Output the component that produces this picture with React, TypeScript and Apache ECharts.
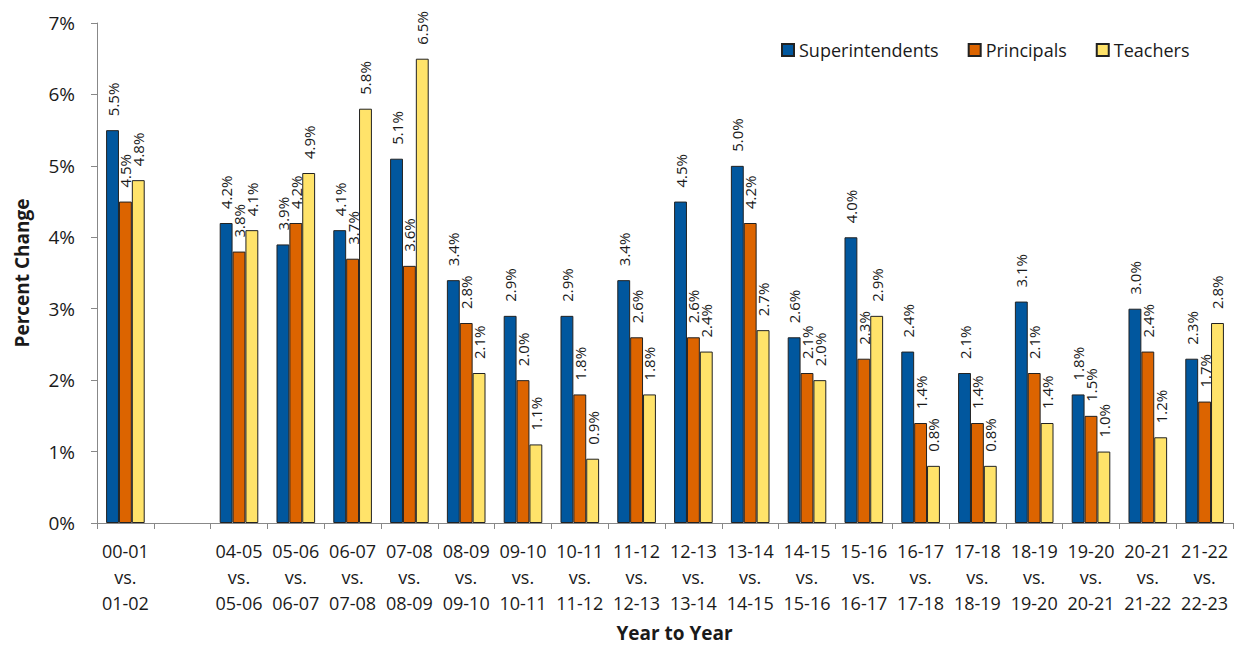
import React, { useEffect, useRef } from "react";
import * as echarts from "echarts";

const categories = [
  "00-01\nvs.\n01-02", "",
  "04-05\nvs.\n05-06", "05-06\nvs.\n06-07", "06-07\nvs.\n07-08", "07-08\nvs.\n08-09",
  "08-09\nvs.\n09-10", "09-10\nvs.\n10-11", "10-11\nvs.\n11-12", "11-12\nvs.\n12-13",
  "12-13\nvs.\n13-14", "13-14\nvs.\n14-15", "14-15\nvs.\n15-16", "15-16\nvs.\n16-17",
  "16-17\nvs.\n17-18", "17-18\nvs.\n18-19", "18-19\nvs.\n19-20", "19-20\nvs.\n20-21",
  "20-21\nvs.\n21-22", "21-22\nvs.\n22-23",
];
const superintendents = [5.5, "-", 4.2, 3.9, 4.1, 5.1, 3.4, 2.9, 2.9, 3.4, 4.5, 5.0, 2.6, 4.0, 2.4, 2.1, 3.1, 1.8, 3.0, 2.3];
const principals = [4.5, "-", 3.8, 4.2, 3.7, 3.6, 2.8, 2.0, 1.8, 2.6, 2.6, 4.2, 2.1, 2.3, 1.4, 1.4, 2.1, 1.5, 2.4, 1.7];
const teachers = [4.8, "-", 4.1, 4.9, 5.8, 6.5, 2.1, 1.1, 0.9, 1.8, 2.4, 2.7, 2.0, 2.9, 0.8, 0.8, 1.4, 1.0, 1.2, 2.8];
const seriesNames = ["Superintendents", "Principals", "Teachers"];
const colors = ["#01579E", "#DC6400", "#FFE36A"];

const FONT = "Open Sans";
const TEXT = "#1a1a1a";

export default function App() {
  const ref = useRef<HTMLDivElement>(null);
  useEffect(() => {
    if (!ref.current) return;
    const chart = echarts.init(ref.current, null, { renderer: "svg" });
    const data = [superintendents, principals, teachers];
    chart.setOption({
      animation: false,
      textStyle: { fontFamily: FONT, color: TEXT },
      grid: { left: 97, right: 3, top: 23, bottom: 122, containLabel: false, outerBoundsMode: "none" },
      legend: {
        data: seriesNames,
        left: 776,
        top: 36,
        itemWidth: 12,
        itemHeight: 12,
        itemGap: 29,
        icon: "rect",
        textStyle: { fontFamily: FONT, fontSize: 18, color: TEXT },
      },
      xAxis: {
        type: "category",
        data: categories,
        name: "Year to Year",
        nameLocation: "middle",
        nameGap: 100,
        nameTextStyle: {
          fontFamily: FONT,
          fontSize: 19,
          fontWeight: "bold",
          color: TEXT,
          padding: [0, 0, 0, 19],
        },
        axisLine: { lineStyle: { color: "#888", width: 1 } },
        axisTick: { show: true, length: 6, lineStyle: { color: "#888" } },
        axisLabel: {
          interval: 0,
          fontFamily: FONT,
          fontSize: 18,
          color: TEXT,
          lineHeight: 26,
          margin: 15,
        },
      },
      yAxis: {
        type: "value",
        min: 0,
        max: 7,
        interval: 1,
        name: "Percent Change",
        nameLocation: "middle",
        nameGap: 66,
        nameTextStyle: { fontFamily: FONT, fontSize: 19, fontWeight: "bold", color: TEXT },
        splitLine: { show: false },
        axisLine: { show: true, lineStyle: { color: "#888", width: 1 } },
        axisTick: { show: true, length: 6, lineStyle: { color: "#888" } },
        axisLabel: {
          formatter: "{value}%",
          fontFamily: FONT,
          fontSize: 19,
          color: TEXT,
          margin: 22,
        },
      },
      series: seriesNames.map((name, i) => ({
        name,
        type: "bar",
        data: data[i],
        barGap: "0%",
        barCategoryGap: "32%",
        itemStyle: { color: colors[i], borderColor: "#222", borderWidth: 1 },
        label: {
          show: true,
          position: "top",
          rotate: 90,
          align: "left",
          verticalAlign: "middle",
          distance: 14,
          fontFamily: FONT,
          fontSize: 15,
          color: TEXT,
          formatter: (p: any) => Number(p.value).toFixed(1) + "%",
        },
      })),
    });
    return () => chart.dispose();
  }, []);
  return <div ref={ref} style={{ width: 1236, height: 645, position: "absolute", left: 0, top: 0 }} />;
}
